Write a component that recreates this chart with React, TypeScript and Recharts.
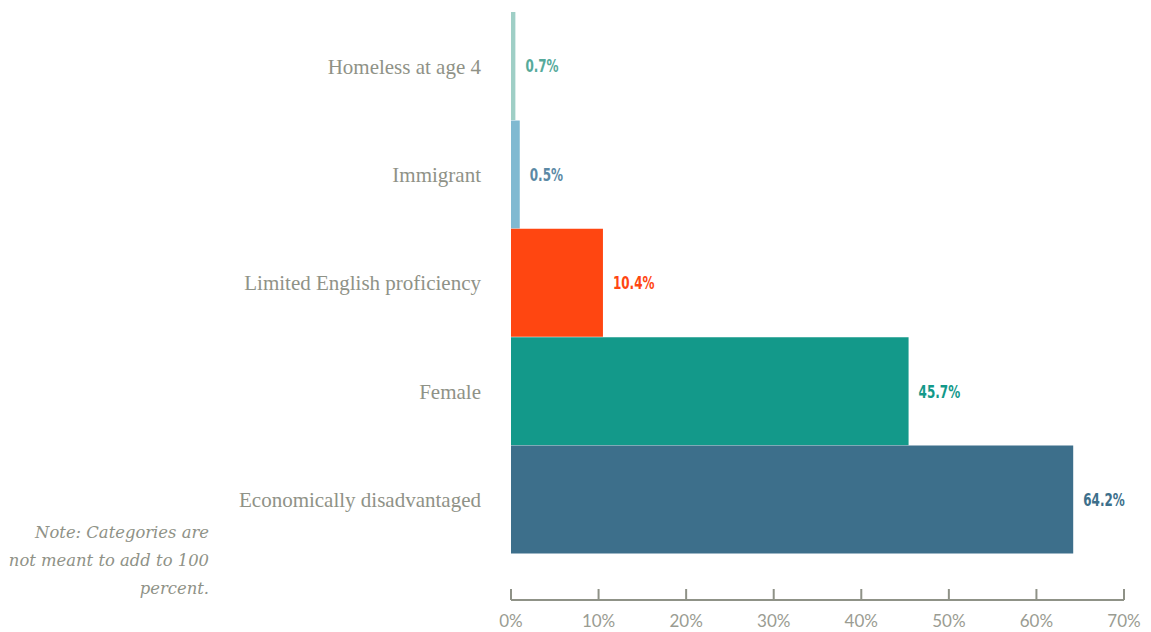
import { BarChart, Bar, XAxis, YAxis, Cell, LabelList } from "recharts";

const categories = [
  "Homeless at age 4",
  "Immigrant",
  "Limited English proficiency",
  "Female",
  "Economically disadvantaged",
];
// bar lengths as drawn in the picture; printed labels kept separately
const values = [0.5, 1.0, 10.5, 45.4, 64.2];
const valueLabels = ["0.7%", "0.5%", "10.4%", "45.7%", "64.2%"];
const barColors = ["#9fcfc6", "#80b9d1", "#ff4611", "#13998a", "#3d6f8b"];
const labelColors = ["#55aa9b", "#5b89a5", "#ff4611", "#13998a", "#3d6f8b"];
const xTicks = [0, 10, 20, 30, 40, 50, 60, 70];
const noteLines = ["Note: Categories are", "not meant to add to 100", "percent."];

const data = categories.map((name, i) => ({ name, value: values[i], label: valueLabels[i] }));

const GRAY = "#8f9287";

const ValueLabel = (props: any) => {
  const { x, y, width, height, index } = props;
  const tx = x + width + 10;
  const ty = y + height / 2;
  return (
    <text
      transform={`translate(${tx},${ty}) scale(0.74,1)`}
      x={0}
      y={0}
      dy="0.36em"
      fill={labelColors[index]}
      fontFamily="'DejaVu Sans Condensed', 'DejaVu Sans', sans-serif"
      fontWeight="bold"
      fontSize={18}
    >
      {valueLabels[index]}
    </text>
  );
};

export default function App() {
  return (
    <div style={{ position: "absolute", left: 0, top: 0, width: 1151, height: 632 }}>
      <BarChart
        layout="vertical"
        width={1151}
        height={632}
        data={data}
        margin={{ top: 12, right: 27, bottom: 0, left: 0 }}
        barCategoryGap={0}
      >
        <XAxis
          type="number"
          domain={[0, 70]}
          ticks={xTicks}
          tickFormatter={(v) => `${v}%`}
          height={32}
          axisLine={{ stroke: GRAY, strokeWidth: 2 }}
          tickLine={{ stroke: GRAY, strokeWidth: 2 }}
          tickSize={-11}
          tickMargin={26}
          tick={{ fill: "#9a9c92", fontSize: 17, fontFamily: "Lato, sans-serif" }}
        />
        <YAxis
          type="category"
          dataKey="name"
          width={511}
          padding={{ top: 0, bottom: 46 }}
          axisLine={false}
          tickLine={false}
          tickSize={0}
          tickMargin={30}
          tick={{ fill: "#8f9287", fontSize: 21, fontFamily: "'Liberation Serif', serif" }}
        />
        <Bar dataKey="value" isAnimationActive={false}>
          {data.map((d, i) => (
            <Cell key={d.name} fill={barColors[i]} />
          ))}
          <LabelList dataKey="label" content={<ValueLabel />} />
        </Bar>
      </BarChart>
      <div
        style={{
          position: "absolute",
          left: 0,
          top: 519,
          width: 209,
          textAlign: "right",
          whiteSpace: "nowrap",
          fontFamily: "'DejaVu Serif', serif",
          fontStyle: "italic",
          fontSize: 16.4,
          lineHeight: "28px",
          color: "#8f9287",
        }}
      >
        {noteLines.map((l) => (
          <div key={l}>{l}</div>
        ))}
      </div>
    </div>
  );
}
